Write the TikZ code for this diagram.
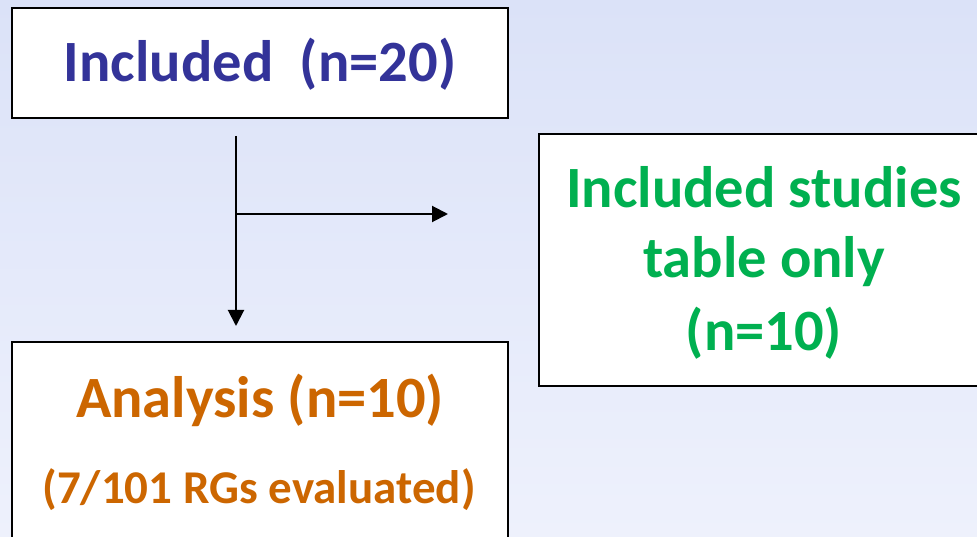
\documentclass[tikz,border=0pt]{standalone}
\usepackage{fontspec}
\setmainfont{Carlito}
\usetikzlibrary{arrows.meta}
\definecolor{bgtop}{RGB}{219,226,248}
\definecolor{bgbot}{RGB}{238,241,252}
\definecolor{incblue}{RGB}{51,51,153}
\definecolor{tabgreen}{RGB}{0,176,80}
\definecolor{anaorange}{RGB}{204,102,0}
\tikzset{
  box/.style={draw=black, line width=2pt, fill=white, rectangle, inner sep=0pt},
  bigtxt/.style={anchor=base, inner sep=0pt, font=\fontsize{58.5}{70}\selectfont\bfseries},
  smalltxt/.style={anchor=base, inner sep=0pt, font=\fontsize{47}{56}\selectfont\bfseries},
  conn/.style={draw=black, line width=2pt, -{Triangle[length=16pt,width=16pt]}},
  plain/.style={draw=black, line width=2pt}
}
\begin{document}
\begin{tikzpicture}[x=1pt,y=-1pt]
\useasboundingbox (0,0) rectangle (977,537);
\clip (0,0) rectangle (977,537);
\shade[top color=bgtop, bottom color=bgbot] (0,0) rectangle (977,537);
% boxes
\node[box, minimum width=496pt, minimum height=110pt] (inc) at (260,63) {};
\node[box, minimum width=470pt, minimum height=252pt] (tab) at (774,260) {};
\node[box, minimum width=496pt, minimum height=230pt] (ana) at (260,457) {};
% texts
\node[bigtxt, text=incblue] (inctxt) at (260,82) {Included\ \ (n=20)};
\node[bigtxt, text=tabgreen] (tab1) at (764,208) {Included studies};
\node[bigtxt, text=tabgreen] (tab2) at (764,278) {table only};
\node[bigtxt, text=tabgreen] (tab3) at (764,350) {(n=10)};
\node[bigtxt, text=anaorange] (ana1) at (260,417) {Analysis (n=10)};
\node[smalltxt, text=anaorange] (ana2) at (259,503) {(7/101 RGs evaluated)};
% connectors
\coordinate (vtop) at (236,136);
\coordinate (vbranch) at (236,214);
\coordinate (vend) at (236,326);
\coordinate (hend) at (448,214);
\draw[conn] (vtop) -- (vend);
\draw[conn] (vbranch) -- (hend);
\end{tikzpicture}
\end{document}
